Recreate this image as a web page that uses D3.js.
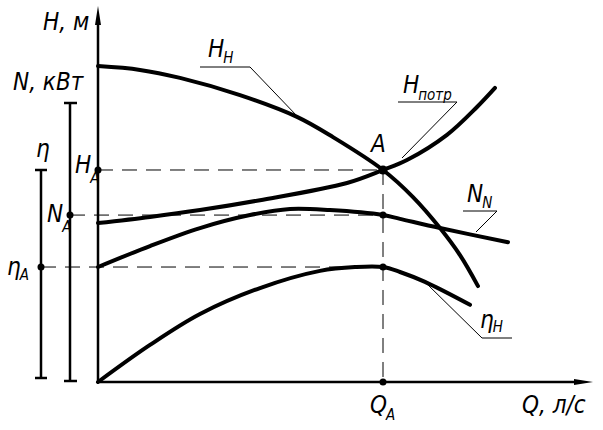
<!DOCTYPE html>
<html><head><meta charset="utf-8">
<script src="https://cdn.jsdelivr.net/npm/d3@7"></script>
<style>
html,body{margin:0;padding:0;background:#fff;}
svg text{font-family:"Liberation Sans Narrow","DejaVu Sans Condensed","Liberation Sans",sans-serif;font-style:italic;fill:#000;}
</style></head>
<body><svg id="c" width="603" height="430"></svg>
<script>
// Data (Q in conventional units; H, N, eta in conventional units)
const qH = [0, 8.4, 16.4, 28.4, 39.8, 47, 57, 63, 68.4, 72.4, 76];
const hPump = [82.7, 81.7, 79.6, 75.1, 69.4, 64.1, 55.5, 48.4, 40.3, 33.2, 25.1];
const qR = [0, 10.4, 20.4, 32.4, 49.8, 57, 61.8, 69.8, 75.8, 79.4];
const hReq = [41.6, 43.2, 45.0, 47.6, 52.1, 55.5, 58.1, 64.7, 72.0, 77.0];
const qN = [0, 10.4, 20.4, 30.4, 38.4, 46.4, 57, 60.4, 68.4, 82];
const nPow = [30.1, 35.6, 40.3, 43.7, 45.3, 45.0, 43.7, 42.7, 40.3, 36.6];
const qE = [0, 10.4, 20.4, 32.4, 44.4, 51.4, 57, 60.4, 65.4, 74.4];
const eta = [0, 9.7, 17.8, 24.6, 29.1, 30.1, 30.1, 28.8, 26.2, 20.2];
const opQ = 57, opH = 55.5, opN = 43.7, opEta = 30.1;

const svg = d3.select("#c");
const x = d3.scaleLinear().domain([0, 100]).range([98, 598]);
const y = d3.scaleLinear().domain([0, 100]).range([382, 0]);

// axes
const ax = svg.append("g").attr("stroke", "#000").attr("stroke-width", 2.5);
ax.append("line").attr("x1", x(0)).attr("y1", y(0)).attr("x2", x(0)).attr("y2", 20);
ax.append("line").attr("x1", x(0)).attr("y1", y(0)).attr("x2", 578).attr("y2", y(0));
svg.append("path").attr("d", `M${x(0)},6 L${x(0)-3},25 L${x(0)+3},25 Z`).attr("fill", "#000");
svg.append("path").attr("d", `M593,${y(0)} L574,${y(0)-3} L574,${y(0)+3} Z`).attr("fill", "#000");
// auxiliary scale bars for N and eta
const bar = svg.append("g").attr("stroke", "#000").attr("stroke-width", 2.5);
bar.append("line").attr("x1", 70).attr("x2", 70).attr("y1", 103).attr("y2", 381);
bar.append("line").attr("x1", 64).attr("x2", 77).attr("y1", 103).attr("y2", 103);
bar.append("line").attr("x1", 64).attr("x2", 77).attr("y1", 381).attr("y2", 381);
bar.append("line").attr("x1", 41).attr("x2", 41).attr("y1", 170).attr("y2", 378);
bar.append("line").attr("x1", 35).attr("x2", 47).attr("y1", 170).attr("y2", 170);
bar.append("line").attr("x1", 35).attr("x2", 47).attr("y1", 378).attr("y2", 378);

// dashed guides
const dg = svg.append("g").attr("stroke", "#000").attr("stroke-width", 1).attr("stroke-dasharray", "15,9");
dg.append("line").attr("x1", x(0)).attr("x2", x(opQ)).attr("y1", y(opH)).attr("y2", y(opH));
dg.append("line").attr("x1", 70).attr("x2", x(opQ)).attr("y1", y(opN)).attr("y2", y(opN));
dg.append("line").attr("x1", 41).attr("x2", x(opQ)).attr("y1", y(opEta)).attr("y2", y(opEta));
dg.append("line").attr("x1", x(opQ)).attr("x2", x(opQ)).attr("y1", y(opH)).attr("y2", y(0));

// curves
const line = d3.line().curve(d3.curveCatmullRom.alpha(0.5)).x(d => x(d[0])).y(d => y(d[1]));
const series = [d3.zip(qH, hPump), d3.zip(qR, hReq), d3.zip(qN, nPow), d3.zip(qE, eta)];
svg.append("g").selectAll("path").data(series).join("path")
  .attr("d", line).attr("fill", "none").attr("stroke", "#000").attr("stroke-width", 4).attr("stroke-linecap", "round");

// points
const pts = [[x(0), y(opH)], [70, y(opN)], [41, y(opEta)], [x(opQ), y(opH)], [x(opQ), y(opN)], [x(opQ), y(opEta)], [x(opQ), y(0)]];
svg.append("g").selectAll("circle").data(pts).join("circle")
  .attr("cx", d => d[0]).attr("cy", d => d[1]).attr("r", 3.5).attr("fill", "#000");
svg.append("circle").attr("cx", x(opQ)).attr("cy", y(opH)).attr("r", 4.5).attr("fill", "#000");

// leaders
const ld = svg.append("g").attr("stroke", "#000").attr("stroke-width", 1).attr("fill", "none");
const leaders = [
  [[200, 67], [250, 67], [297, 116]],
  [[398, 102], [457, 102], [402, 158]],
  [[463, 211], [497, 211], [476, 232]],
  [[512, 338], [482, 338], [425, 282]]
];
ld.selectAll("polyline").data(leaders).join("polyline").attr("points", d => d.map(p => p.join(",")).join(" "));

// labels
function label(px, py, main, sub, sdy, size) {
  size = size || 24;
  const t = svg.append("text").attr("x", px).attr("y", py).attr("font-size", size).text(main);
  if (sub) {
    const w = t.node().getComputedTextLength();
    svg.append("text").attr("x", px + w - 1).attr("y", py + sdy).attr("font-size", 15).text(sub);
  }
}
label(43, 30, "H, м");
label(13, 90, "N, кВт");
label(36, 157, "η");
label(75, 173, "H", "A", 10);
label(47, 222, "N", "A", 10);
label(7, 275, "η", "A", 5);
label(371, 152, "A");
label(208, 57, "H", "Н", 6);
label(403, 93, "H", "потр", 7);
label(467, 202, "N", "N", 6);
label(480, 328, "η", "Н", 4);
label(370, 413, "Q", "A", 7);
label(522, 413, "Q, л/с");
</script></body></html>
